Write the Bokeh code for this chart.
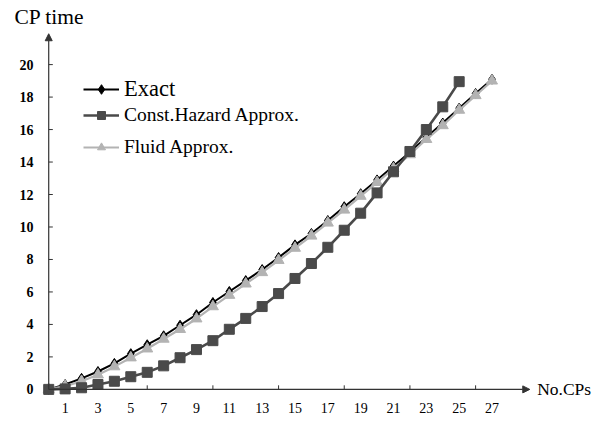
from bokeh.plotting import figure
from bokeh.models import (FixedTicker, Legend, LegendItem, Arrow, NormalHead,
                          Title, Range1d)
from bokeh.core.properties import value
from bokeh.embed import file_html
from bokeh.resources import INLINE

# ---- data ----
x_exact = list(range(0, 28))
exact = [0.0, 0.3, 0.68, 1.1, 1.6, 2.2, 2.75, 3.3, 3.95, 4.6,
         5.35, 6.03, 6.7, 7.38, 8.12, 8.9, 9.6, 10.4, 11.25, 12.05,
         12.9, 13.75, 14.6, 15.52, 16.4, 17.32, 18.22, 19.1]
x_const = list(range(0, 26))
const = [0.0, 0.03, 0.1, 0.3, 0.5, 0.78, 1.05, 1.45, 1.95, 2.45,
         3.0, 3.7, 4.37, 5.1, 5.9, 6.83, 7.75, 8.75, 9.8, 10.85,
         12.1, 13.4, 14.65, 16.0, 17.4, 18.95]
x_fluid = list(range(0, 28))
fluid = [0.0, 0.2, 0.5, 0.9, 1.4, 1.95, 2.5, 3.1, 3.7, 4.35,
         5.1, 5.8, 6.5, 7.2, 7.95, 8.7, 9.45, 10.25, 11.05, 11.9,
         12.75, 13.6, 14.46, 15.4, 16.25, 17.2, 18.1, 19.0]
x_tick_labels = list(range(1, 28, 2))
x_minor_ticks = [2, 6, 10, 14, 18, 22, 26]
y_ticks = list(range(0, 21, 2))

SERIF = "Liberation Serif"
AXIS_C = "#333333"

p = figure(width=603, height=430, output_backend="svg", toolbar_location=None,
           x_range=Range1d(-0.5, 33.79), y_range=Range1d(-0.5, 22.1),
           min_border_left=40, min_border_right=0, min_border_top=30,
           min_border_bottom=33)
p.outline_line_color = None
p.grid.visible = False
p.background_fill_color = "white"

t = Title(text="CP time", align="left", offset=-26, standoff=3,
          text_font=SERIF, text_font_size="21.5px", text_font_style="normal",
          text_color="black")
p.add_layout(t, "above")

# axes (labels only; lines & ticks drawn at data zero below)
p.xaxis.ticker = FixedTicker(ticks=x_tick_labels, minor_ticks=[])
p.yaxis.ticker = FixedTicker(ticks=y_ticks, minor_ticks=[])
for ax in (p.xaxis, p.yaxis):
    ax.axis_line_color = None
    ax.major_tick_line_color = None
    ax.minor_tick_line_color = None
    ax.major_tick_out = 0
    ax.major_tick_in = 0
    ax.major_label_text_font = SERIF
    ax.major_label_text_font_size = "14px"
    ax.major_label_text_color = "black"
p.yaxis.major_label_text_font_style = "bold"
p.xaxis.major_label_standoff = 5
p.yaxis.major_label_standoff = 7

# axis lines with arrows
x_arrow_end = 29.3
y_arrow_end = 21.9
p.add_layout(Arrow(x_start=0, y_start=0, x_end=x_arrow_end, y_end=0,
                   line_color=AXIS_C, line_width=1.2,
                   end=NormalHead(size=7, fill_color=AXIS_C, line_color=AXIS_C)))
p.add_layout(Arrow(x_start=0, y_start=0, x_end=0, y_end=y_arrow_end,
                   line_color=AXIS_C, line_width=1.2,
                   end=NormalHead(size=7, fill_color=AXIS_C, line_color=AXIS_C)))
tick_len_x = 0.25
tick_len_y = 0.25
p.segment(x0=[0] * len(y_ticks), y0=y_ticks, x1=[tick_len_x] * len(y_ticks), y1=y_ticks,
          line_color=AXIS_C, line_width=1)
p.segment(x0=x_minor_ticks, y0=[0] * len(x_minor_ticks), x1=x_minor_ticks,
          y1=[tick_len_y] * len(x_minor_ticks), line_color=AXIS_C, line_width=1)
p.text(x=[x_arrow_end + 0.45], y=[0], text=["No.CPs"], text_font=value(SERIF),
       text_font_size="17.5px", text_baseline="middle", text_align="left",
       text_color="black")

# series
l_ex = p.line(x_exact, exact, line_color="black", line_width=2)
m_ex = p.scatter(x_exact, exact, marker="diamond", size=10, fill_color="black",
                 line_color="black")
l_fl = p.line(x_fluid, fluid, line_color="#b3b3b3", line_width=2.2)
m_fl = p.scatter(x_fluid, fluid, marker="triangle", size=11, fill_color="#b3b3b3",
                 line_color="#b3b3b3")
l_co = p.line(x_const, const, line_color="#4a4a4a", line_width=2.6)
m_co = p.scatter(x_const, const, marker="square", size=10, fill_color="#4a4a4a",
                 line_color="#4a4a4a")

leg1 = Legend(items=[LegendItem(label="Exact", renderers=[l_ex, m_ex])],
              location=(43, 295), padding=0, margin=0, border_line_color=None,
              background_fill_alpha=0, glyph_width=36, glyph_height=24,
              label_height=24, label_standoff=5, label_text_font=SERIF,
              label_text_font_size="22.5px", label_text_color="black")
leg2 = Legend(items=[LegendItem(label="Const.Hazard Approx.", renderers=[l_co, m_co]),
                     LegendItem(label="Fluid Approx.", renderers=[l_fl, m_fl])],
              location=(43, 239), padding=0, margin=0, border_line_color=None,
              background_fill_alpha=0, glyph_width=36, glyph_height=20,
              label_height=20, label_standoff=5, spacing=10, label_text_font=SERIF,
              label_text_font_size="19.5px", label_text_color="black")
p.add_layout(leg1, "center")
p.add_layout(leg2, "center")

open("out.html", "w").write(file_html(p, INLINE))
